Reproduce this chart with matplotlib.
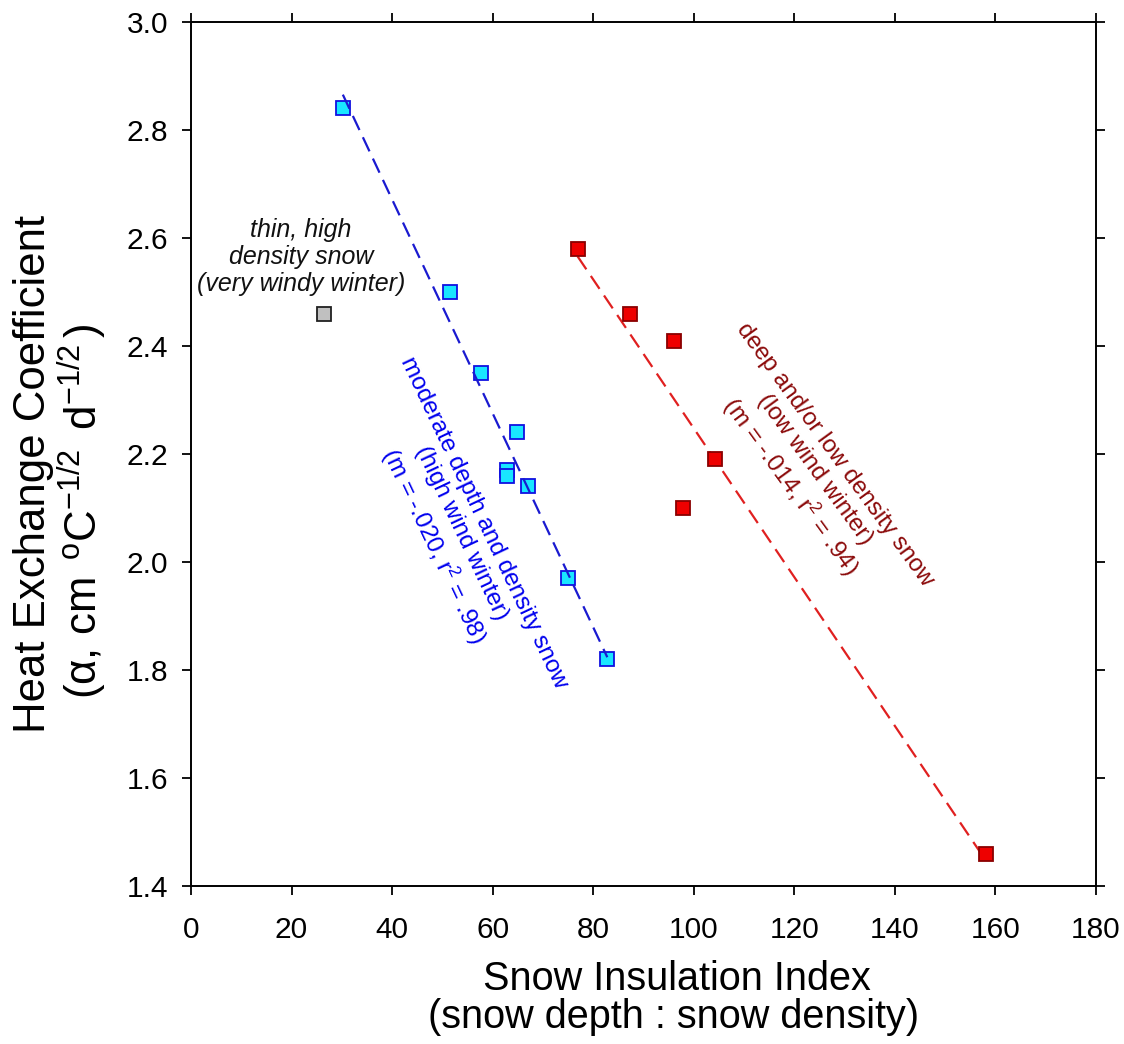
import matplotlib

matplotlib.use("Agg")

import matplotlib.pyplot as plt
import numpy as np

OUTPUT_PNG = "out.png"

# cyan group: moderate depth, high wind winters
MODERATE_SII = [30.2, 51.5, 57.6, 64.8, 62.8, 62.8, 67.1, 74.9, 82.8]
MODERATE_ALPHA = [2.84, 2.50, 2.35, 2.24, 2.17, 2.16, 2.14, 1.97, 1.82]

# red group: deep and/or low density snow
DEEP_SII = [76.9, 87.4, 96.1, 104.3, 97.8, 158.2]
DEEP_ALPHA = [2.58, 2.46, 2.41, 2.19, 2.10, 1.46]

# grey point: thin, high density snow
THIN_SII = [26.5]
THIN_ALPHA = [2.46]

X_TICKS = list(range(0, 181, 20))
Y_TICKS = [1.4, 1.6, 1.8, 2.0, 2.2, 2.4, 2.6, 2.8, 3.0]

FIG_W, FIG_H = 1124, 1044


def px_x(p):
    return p / FIG_W


def px_y(p):
    return 1 - p / FIG_H


def fit_line(ax, xs, ys, color, zorder):
    slope, intercept = np.polyfit(xs, ys, 1)
    xx = np.array([min(xs), max(xs)])
    line, = ax.plot(xx, slope * xx + intercept, color=color, lw=1.6, zorder=zorder)
    line.set_dashes((7, 3.6))


def build_chart():
    plt.rcParams["font.family"] = "Liberation Sans"
    plt.rcParams["mathtext.fontset"] = "custom"
    plt.rcParams["mathtext.rm"] = "Liberation Sans"
    plt.rcParams["mathtext.it"] = "Liberation Sans:italic"
    plt.rcParams["mathtext.default"] = "regular"

    fig = plt.figure(figsize=(FIG_W / 100, FIG_H / 100), dpi=100)
    ax = fig.add_axes([px_x(191), px_y(886), (1096 - 191) / FIG_W, (886 - 22) / FIG_H])

    fit_line(ax, MODERATE_SII, MODERATE_ALPHA, "#1a1ad0", zorder=4)
    fit_line(ax, DEEP_SII, DEEP_ALPHA, "#e02020", zorder=2)

    ax.plot(MODERATE_SII, MODERATE_ALPHA, "s", ms=9.7, mfc="#19e6ff", mec="#1010e0",
            mew=1.3, zorder=3)
    ax.plot(DEEP_SII, DEEP_ALPHA, "s", ms=9.7, mfc="#ee0000", mec="#8a0000",
            mew=1.3, zorder=3)
    ax.plot(THIN_SII, THIN_ALPHA, "s", ms=9.7, mfc="#c0c0c0", mec="#202020",
            mew=1.3, zorder=3)

    ax.set_xlim(0, 180)
    ax.set_ylim(1.4, 3.0)
    ax.set_xticks(X_TICKS)
    ax.set_yticks(Y_TICKS)
    ax.set_yticklabels([f"{v:.1f}" for v in Y_TICKS])

    for side in ["left", "right", "top", "bottom"]:
        ax.spines[side].set_linewidth(1.4)
    ax.tick_params(which="both", direction="out", length=6.5, width=1.3,
                   labelsize=21.5, top=True, right=True)
    ax.tick_params(axis="x", pad=15)
    ax.tick_params(axis="y", pad=10)

    ax.text(21.9, 2.565, "thin, high\ndensity snow\n(very windy winter)",
            ha="center", va="center", fontsize=18, style="italic",
            color="#111111", linespacing=1.15)

    ax.text(52.9, 2.05,
            "moderate depth and density snow\n(high wind winter)\n(m = -.020, r$^{2}$ = .98)",
            ha="center", va="center", rotation=-64.7, rotation_mode="anchor",
            fontsize=17.5, color="#0000ee", multialignment="center", linespacing=1.15)

    ax.text(123.4, 2.167,
            "deep and/or low density snow\n(low wind winter)\n(m = -.014, r$^{2}$ = .94)",
            ha="center", va="center", rotation=-54, rotation_mode="anchor",
            fontsize=17.5, color="#8b0a0a", multialignment="center", linespacing=1.15)

    # axis titles, one text per line so the spacing can follow the original
    fig.text(px_x(677), px_y(990), "Snow Insulation Index",
             ha="center", va="baseline", fontsize=28.5)
    fig.text(px_x(674), px_y(1028), "(snow depth : snow density)",
             ha="center", va="baseline", fontsize=28.5)
    fig.text(px_x(45), px_y(474), "Heat Exchange Coefficient",
             ha="center", va="baseline", rotation=90, rotation_mode="anchor",
             fontsize=31.5)
    fig.text(px_x(97), px_y(511),
             r"($\alpha$, cm $^{\,o}$C$^{-1/2}$$\,$ d$^{-1/2}$$\,$)",
             ha="center", va="baseline", rotation=90, rotation_mode="anchor",
             fontsize=31.5)

    fig.savefig(OUTPUT_PNG, dpi=100)
    plt.close(fig)


def main():
    build_chart()


if __name__ == "__main__":
    main()
